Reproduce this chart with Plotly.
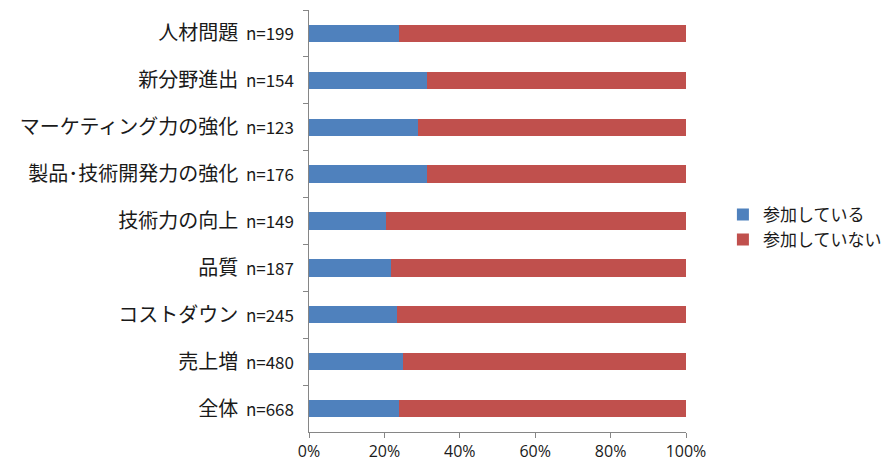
import plotly.graph_objects as go

categories = ["人材問題", "新分野進出", "マーケティング力の強化", "製品･技術開発力の強化",
              "技術力の向上", "品質", "コストダウン", "売上増", "全体"]
n_values = [199, 154, 123, 176, 149, 187, 245, 480, 668]
participating = [23.8, 31.4, 28.9, 31.4, 20.4, 21.8, 23.4, 24.9, 23.8]
not_participating = [76.2, 68.6, 71.1, 68.6, 79.6, 78.2, 76.6, 75.1, 76.2]
x_ticks = [0, 20, 40, 60, 80, 100]
x_tick_labels = ["0%", "20%", "40%", "60%", "80%", "100%"]

labels = [f"{c}<span style='font-size:17px'>&nbsp;&nbsp;n={n}</span>" for c, n in zip(categories, n_values)]

fig = go.Figure()
fig.add_trace(go.Bar(y=labels, x=participating, orientation="h", name="参加している",
                     marker=dict(color="#4F81BD", line=dict(width=0))))
fig.add_trace(go.Bar(y=labels, x=not_participating, orientation="h", name="参加していない",
                     marker=dict(color="#C0504D", line=dict(width=0))))

fig.update_layout(
    width=896, height=473,
    barmode="stack", bargap=0.63,
    margin=dict(l=309, r=209, t=10, b=41),
    paper_bgcolor="white", plot_bgcolor="white",
    font=dict(family="Noto Sans CJK JP, sans-serif", size=20, color="#1a1a1a"),
    showlegend=True,
    legend=dict(x=1.095, y=0.485, xanchor="left", yanchor="middle", traceorder="normal",
                font=dict(size=17), itemwidth=30, tracegroupgap=2,
                bgcolor="rgba(0,0,0,0)"),
    xaxis=dict(range=[0, 100], tickvals=x_ticks, ticktext=x_tick_labels,
               showgrid=False, zeroline=False, showline=True, linecolor="#868686",
               ticks="outside", ticklen=5, tickcolor="#868686",
               tickfont=dict(size=16, family="Open Sans, sans-serif")),
    yaxis=dict(autorange="reversed", showgrid=False, showline=True, linecolor="#868686",
               ticks="outside", ticklen=5, tickcolor="#868686", tickson="boundaries",
               ticklabelstandoff=10),
)

fig.write_html("out.html")
